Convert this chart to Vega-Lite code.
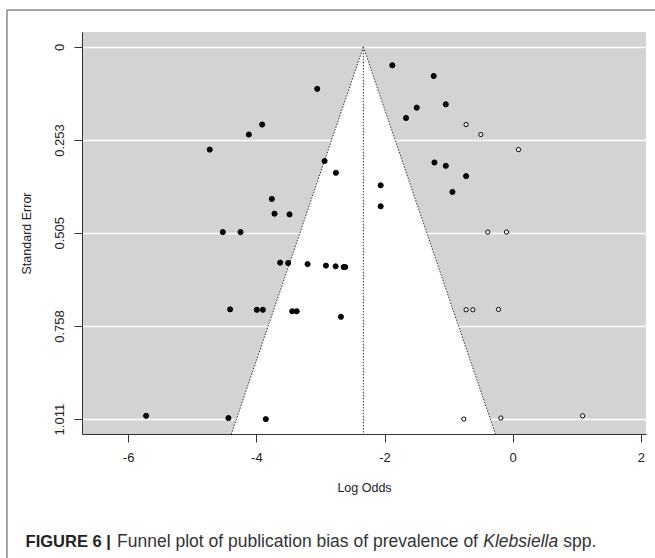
{
  "$schema": "https://vega.github.io/schema/vega-lite/v6.json",
  "width": 564,
  "height": 402,
  "autosize": {"type": "none"},
  "padding": {"left": 82, "top": 32, "right": 9, "bottom": 124},
  "background": "white",
  "config": {
    "view": {"fill": "#d3d3d3", "stroke": null},
    "font": "Liberation Sans"
  },
  "datasets": {
    "studies": [
      {"logodds": -3.05, "se": 0.114, "type": "observed"},
      {"logodds": -3.909, "se": 0.211, "type": "observed"},
      {"logodds": -4.117, "se": 0.238, "type": "observed"},
      {"logodds": -4.727, "se": 0.279, "type": "observed"},
      {"logodds": -2.935, "se": 0.31, "type": "observed"},
      {"logodds": -2.758, "se": 0.342, "type": "observed"},
      {"logodds": -3.758, "se": 0.413, "type": "observed"},
      {"logodds": -3.716, "se": 0.453, "type": "observed"},
      {"logodds": -3.482, "se": 0.455, "type": "observed"},
      {"logodds": -4.523, "se": 0.503, "type": "observed"},
      {"logodds": -4.247, "se": 0.503, "type": "observed"},
      {"logodds": -3.628, "se": 0.586, "type": "observed"},
      {"logodds": -3.503, "se": 0.587, "type": "observed"},
      {"logodds": -3.2, "se": 0.59, "type": "observed"},
      {"logodds": -2.914, "se": 0.594, "type": "observed"},
      {"logodds": -2.763, "se": 0.596, "type": "observed"},
      {"logodds": -2.638, "se": 0.598, "type": "observed"},
      {"logodds": -2.613, "se": 0.598, "type": "observed"},
      {"logodds": -4.409, "se": 0.713, "type": "observed"},
      {"logodds": -3.992, "se": 0.714, "type": "observed"},
      {"logodds": -3.898, "se": 0.714, "type": "observed"},
      {"logodds": -3.44, "se": 0.718, "type": "observed"},
      {"logodds": -3.37, "se": 0.718, "type": "observed"},
      {"logodds": -2.68, "se": 0.733, "type": "observed"},
      {"logodds": -5.72, "se": 1.002, "type": "observed"},
      {"logodds": -4.435, "se": 1.008, "type": "observed"},
      {"logodds": -3.852, "se": 1.011, "type": "observed"},
      {"logodds": -1.878, "se": 0.05, "type": "observed"},
      {"logodds": -1.232, "se": 0.079, "type": "observed"},
      {"logodds": -1.497, "se": 0.165, "type": "observed"},
      {"logodds": -1.044, "se": 0.156, "type": "observed"},
      {"logodds": -1.664, "se": 0.193, "type": "observed"},
      {"logodds": -1.221, "se": 0.314, "type": "observed"},
      {"logodds": -1.044, "se": 0.323, "type": "observed"},
      {"logodds": -0.727, "se": 0.351, "type": "observed"},
      {"logodds": -0.94, "se": 0.394, "type": "observed"},
      {"logodds": -2.06, "se": 0.376, "type": "observed"},
      {"logodds": -2.06, "se": 0.433, "type": "observed"},
      {"logodds": -0.727, "se": 0.211, "type": "imputed"},
      {"logodds": -0.497, "se": 0.238, "type": "imputed"},
      {"logodds": 0.091, "se": 0.279, "type": "imputed"},
      {"logodds": -0.388, "se": 0.503, "type": "imputed"},
      {"logodds": -0.096, "se": 0.503, "type": "imputed"},
      {"logodds": -0.727, "se": 0.714, "type": "imputed"},
      {"logodds": -0.622, "se": 0.714, "type": "imputed"},
      {"logodds": -0.221, "se": 0.713, "type": "imputed"},
      {"logodds": -0.763, "se": 1.011, "type": "imputed"},
      {"logodds": -0.185, "se": 1.008, "type": "imputed"},
      {"logodds": 1.091, "se": 1.002, "type": "imputed"}
    ],
    "funnel": [
      {"se": 0, "lower": -2.33, "upper": -2.33},
      {"se": 1.0514, "lower": -4.39, "upper": -0.27}
    ],
    "bounds": [
      {"x1": -2.33, "se1": 0, "x2": -4.39, "se2": 1.0514},
      {"x1": -2.33, "se1": 0, "x2": -0.27, "se2": 1.0514},
      {"x1": -2.33, "se1": 0, "x2": -2.33, "se2": 1.0514}
    ]
  },
  "layer": [
    {
      "data": {"name": "funnel"},
      "mark": {"type": "area", "orient": "horizontal", "fill": "white", "opacity": 1},
      "encoding": {
        "y": {
          "field": "se", "type": "quantitative",
          "scale": {"domain": [-0.0404, 1.0514], "reverse": true, "nice": false, "zero": false},
          "axis": {
            "title": "Standard Error",
            "values": [0, 0.253, 0.505, 0.758, 1.011],
            "labelExpr": "toString(datum.value)",
            "labelAngle": 270,
            "labelAlign": "center",
            "labelBaseline": "bottom",
            "labelPadding": 8,
            "labelFlush": false,
            "labelOverlap": false,
            "tickSize": 8,
            "tickColor": "#333",
            "domainColor": "#333",
            "grid": true,
            "gridColor": "white",
            "gridWidth": 1.5,
            "labelColor": "#222",
            "labelFontSize": 13,
            "titleFontSize": 12.5,
            "titleFontWeight": "normal",
            "titleColor": "#222",
            "titlePadding": 20
          }
        },
        "x": {
          "field": "lower", "type": "quantitative",
          "scale": {"domain": [-6.72, 2.08], "nice": false, "zero": false},
          "axis": {
            "title": "Log Odds",
            "values": [-6, -4, -2, 0, 2],
            "labelExpr": "toString(datum.value)",
            "labelPadding": 9,
            "labelFlush": false,
            "tickSize": 8,
            "tickColor": "#333",
            "domainColor": "#333",
            "grid": false,
            "labelColor": "#222",
            "labelFontSize": 13,
            "titleFontSize": 12.5,
            "titleFontWeight": "normal",
            "titleColor": "#222",
            "titlePadding": 17
          }
        },
        "x2": {"field": "upper"}
      }
    },
    {
      "data": {"name": "bounds"},
      "mark": {"type": "rule", "color": "#333", "strokeWidth": 1, "strokeDash": [1.5, 1.5]},
      "encoding": {
        "x": {"field": "x1", "type": "quantitative"},
        "y": {"field": "se1", "type": "quantitative"},
        "x2": {"field": "x2"},
        "y2": {"field": "se2"}
      }
    },
    {
      "data": {"name": "studies"},
      "transform": [{"filter": "datum.type === 'observed'"}],
      "mark": {"type": "point", "shape": "circle", "filled": true, "fill": "black", "stroke": "black", "strokeWidth": 1, "size": 26, "opacity": 1},
      "encoding": {
        "x": {"field": "logodds", "type": "quantitative"},
        "y": {"field": "se", "type": "quantitative"}
      }
    },
    {
      "data": {"name": "studies"},
      "transform": [{"filter": "datum.type === 'imputed'"}],
      "mark": {"type": "point", "shape": "circle", "filled": true, "fill": "white", "stroke": "black", "strokeWidth": 1, "size": 18, "opacity": 1},
      "encoding": {
        "x": {"field": "logodds", "type": "quantitative"},
        "y": {"field": "se", "type": "quantitative"}
      }
    },
    {
      "data": {"values": [{"edge": "left"}]},
      "mark": {"type": "rule", "color": "#888", "strokeWidth": 1.5, "clip": false},
      "encoding": {
        "x": {"datum": -7.891, "type": "quantitative"},
        "y": {"datum": -0.1002, "type": "quantitative"},
        "y2": {"datum": 1.3936}
      }
    },
    {
      "data": {"values": [{"edge": "top"}]},
      "mark": {"type": "rule", "color": "#888", "strokeWidth": 1.5, "clip": false},
      "encoding": {
        "x": {"datum": -7.891, "type": "quantitative"},
        "x2": {"datum": 2.304},
        "y": {"datum": -0.1002, "type": "quantitative"}
      }
    },
    {
      "data": {"values": [{"part": "FIGURE 6 |"}]},
      "mark": {"type": "text", "align": "left", "baseline": "alphabetic", "font": "Liberation Sans", "fontWeight": "bold", "fontSize": 16.5, "color": "#222", "clip": false},
      "encoding": {
        "x": {"datum": -7.6, "type": "quantitative"},
        "y": {"datum": 1.358, "type": "quantitative"},
        "text": {"field": "part"}
      }
    },
    {
      "data": {"values": [{"part": "Funnel plot of publication bias of prevalence of"}]},
      "mark": {"type": "text", "align": "left", "baseline": "alphabetic", "font": "Liberation Sans", "fontSize": 17.5, "color": "#333", "clip": false},
      "encoding": {
        "x": {"datum": -6.173, "type": "quantitative"},
        "y": {"datum": 1.358, "type": "quantitative"},
        "text": {"field": "part"}
      }
    },
    {
      "data": {"values": [{"part": "Klebsiella"}]},
      "mark": {"type": "text", "align": "left", "baseline": "alphabetic", "font": "Liberation Sans", "fontStyle": "italic", "fontSize": 17.5, "color": "#333", "clip": false},
      "encoding": {
        "x": {"datum": -0.459, "type": "quantitative"},
        "y": {"datum": 1.358, "type": "quantitative"},
        "text": {"field": "part"}
      }
    },
    {
      "data": {"values": [{"part": "spp."}]},
      "mark": {"type": "text", "align": "left", "baseline": "alphabetic", "font": "Liberation Sans", "fontSize": 17.5, "color": "#333", "clip": false},
      "encoding": {
        "x": {"datum": 0.79, "type": "quantitative"},
        "y": {"datum": 1.358, "type": "quantitative"},
        "text": {"field": "part"}
      }
    }
  ]
}
